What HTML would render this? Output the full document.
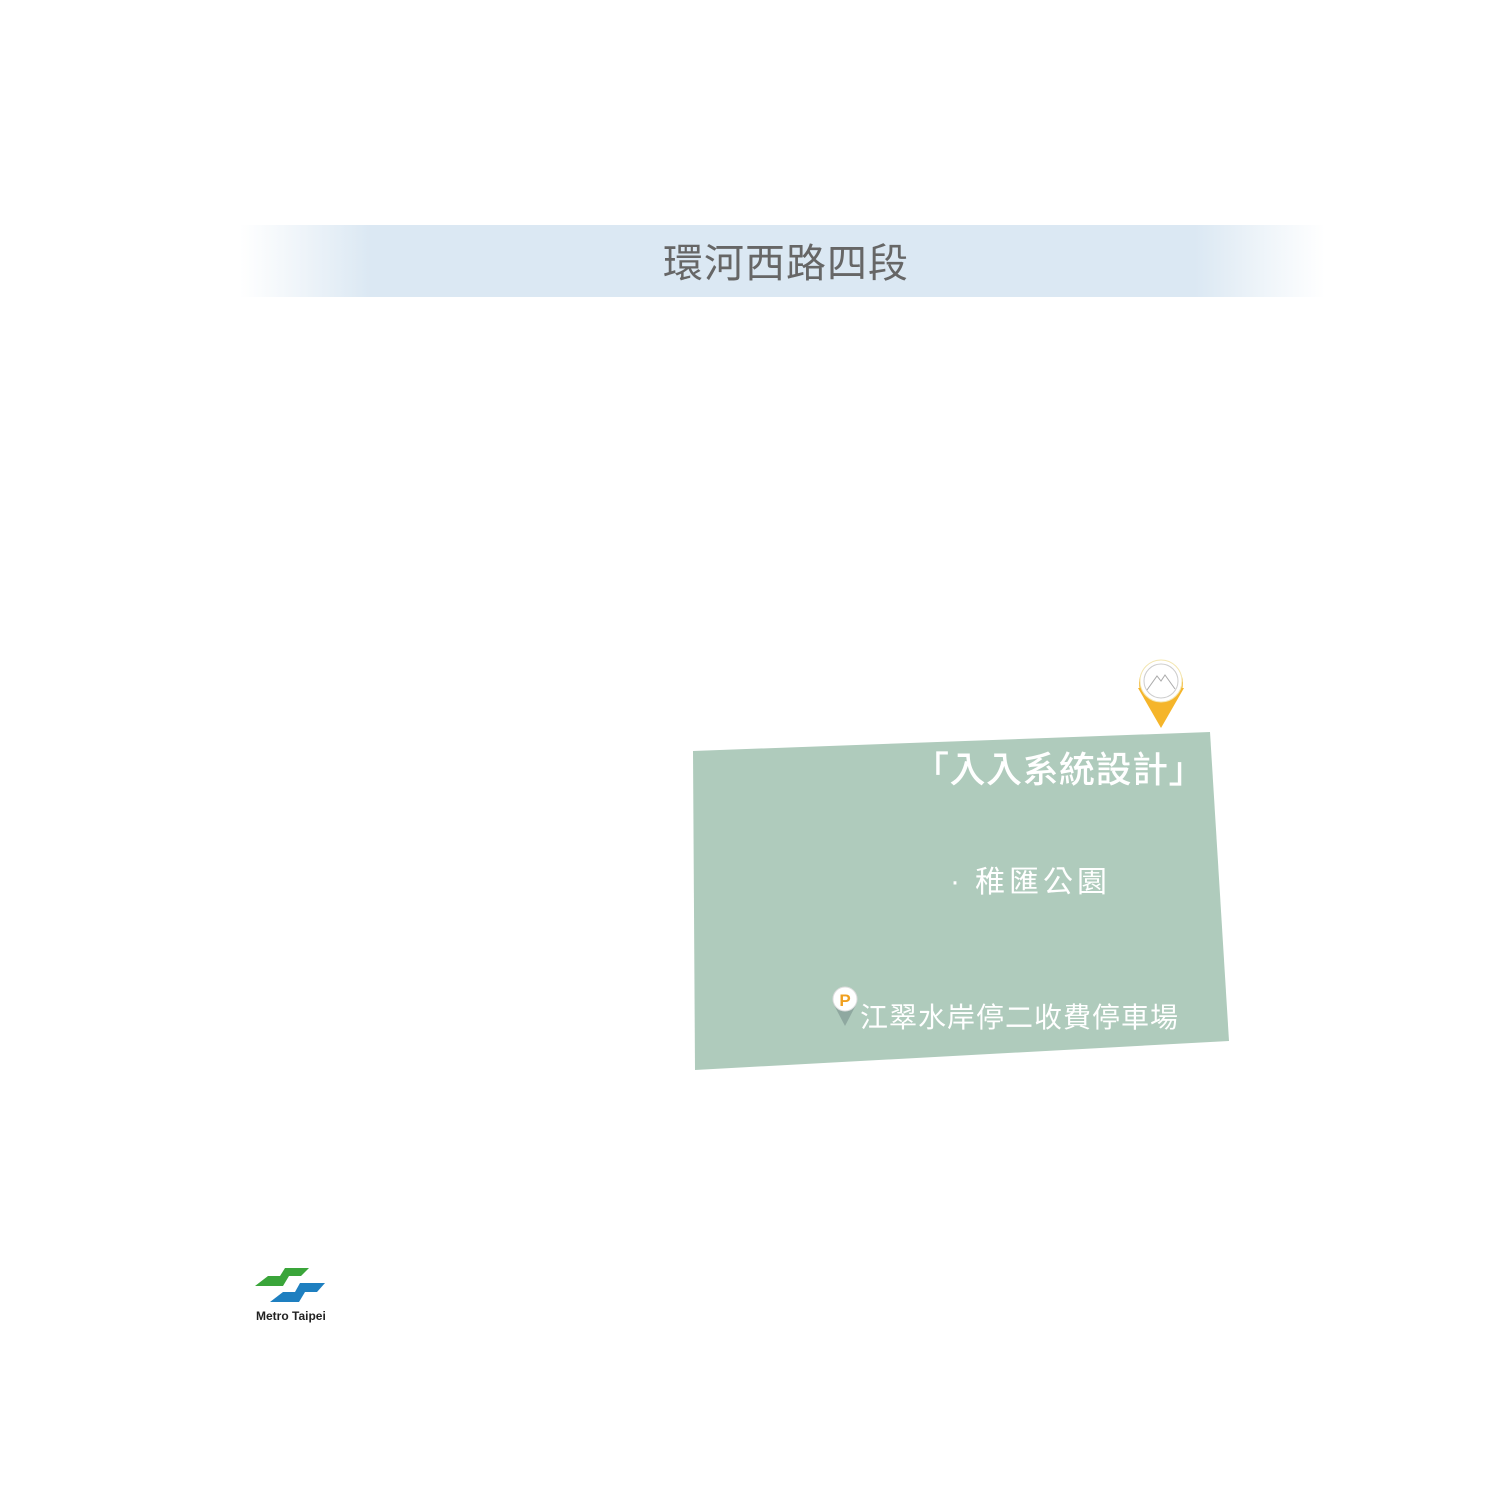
<!DOCTYPE html>
<html><head><meta charset="utf-8"><style>
html,body{margin:0;padding:0;background:#fff;width:1500px;height:1500px;overflow:hidden}
text{font-family:"Liberation Sans","Noto Sans CJK TC",sans-serif}
</style></head><body>
<svg width="1500" height="1500" viewBox="0 0 1500 1500" xmlns="http://www.w3.org/2000/svg">
<defs>
<linearGradient id="band" x1="0" x2="1" y1="0" y2="0">
<stop offset="0" stop-color="#dde9f3" stop-opacity="0"/>
<stop offset="0.12" stop-color="#dbe8f3"/>
<stop offset="0.88" stop-color="#dbe8f3"/>
<stop offset="1" stop-color="#dde9f3" stop-opacity="0"/>
</linearGradient>
</defs>
<rect x="240" y="225" width="1085" height="72" fill="url(#band)"/>
<text x="786" y="277" font-size="40" fill="#666" text-anchor="middle" letter-spacing="1">環河西路四段</text>

<polygon points="693,751 1210,732 1229,1041 695,1070" fill="#afcbbc"/>
<text x="1205" y="782" font-size="36" fill="#fff" text-anchor="end" font-weight="500" letter-spacing="0.5">「入入系統設計」</text>
<text x="950" y="891" font-size="30" fill="#fff">·</text>
<text x="975" y="892" font-size="30" fill="#fff" letter-spacing="4">稚匯公園</text>
<text x="860" y="1027" font-size="28" fill="#fff" letter-spacing="1">江翠水岸停二收費停車場</text>

<!-- P pin -->
<path d="M833,1003 L845,1026 L857,1003 Z" fill="#8fa8a0"/>
<circle cx="845" cy="999" r="12" fill="#fff" stroke="#ddd" stroke-width="1"/>
<text x="845" y="1006" font-size="17" font-weight="bold" fill="#f0a020" text-anchor="middle">P</text>

<!-- yellow pin -->
<path d="M1138,688 L1161,728 L1184,688 Z" fill="#f5b52a"/>
<circle cx="1161" cy="683" r="22" fill="#f5b52a"/>
<circle cx="1161" cy="681" r="21" fill="#fff" stroke="#f3e6b0" stroke-width="1"/>
<circle cx="1161" cy="681" r="17" fill="none" stroke="#ccc" stroke-width="1"/>
<path d="M1147,690 L1157,676 L1161,681 L1165,675 L1175,689" fill="none" stroke="#aaa" stroke-width="1"/>

<!-- Metro Taipei logo -->
<path d="M255,1286 L268,1276 L280,1276 L285,1268 L309,1268 L301,1276 L289,1276 L283,1286 Z" fill="#3aa53a"/>
<path d="M270,1302 L283,1292 L295,1292 L300,1283 L325,1283 L317,1292 L305,1292 L299,1302 Z" fill="#1e7fc0"/>
<text x="256" y="1320" font-size="12" font-weight="bold" fill="#222">Metro Taipei</text>
</svg>
</body></html>
